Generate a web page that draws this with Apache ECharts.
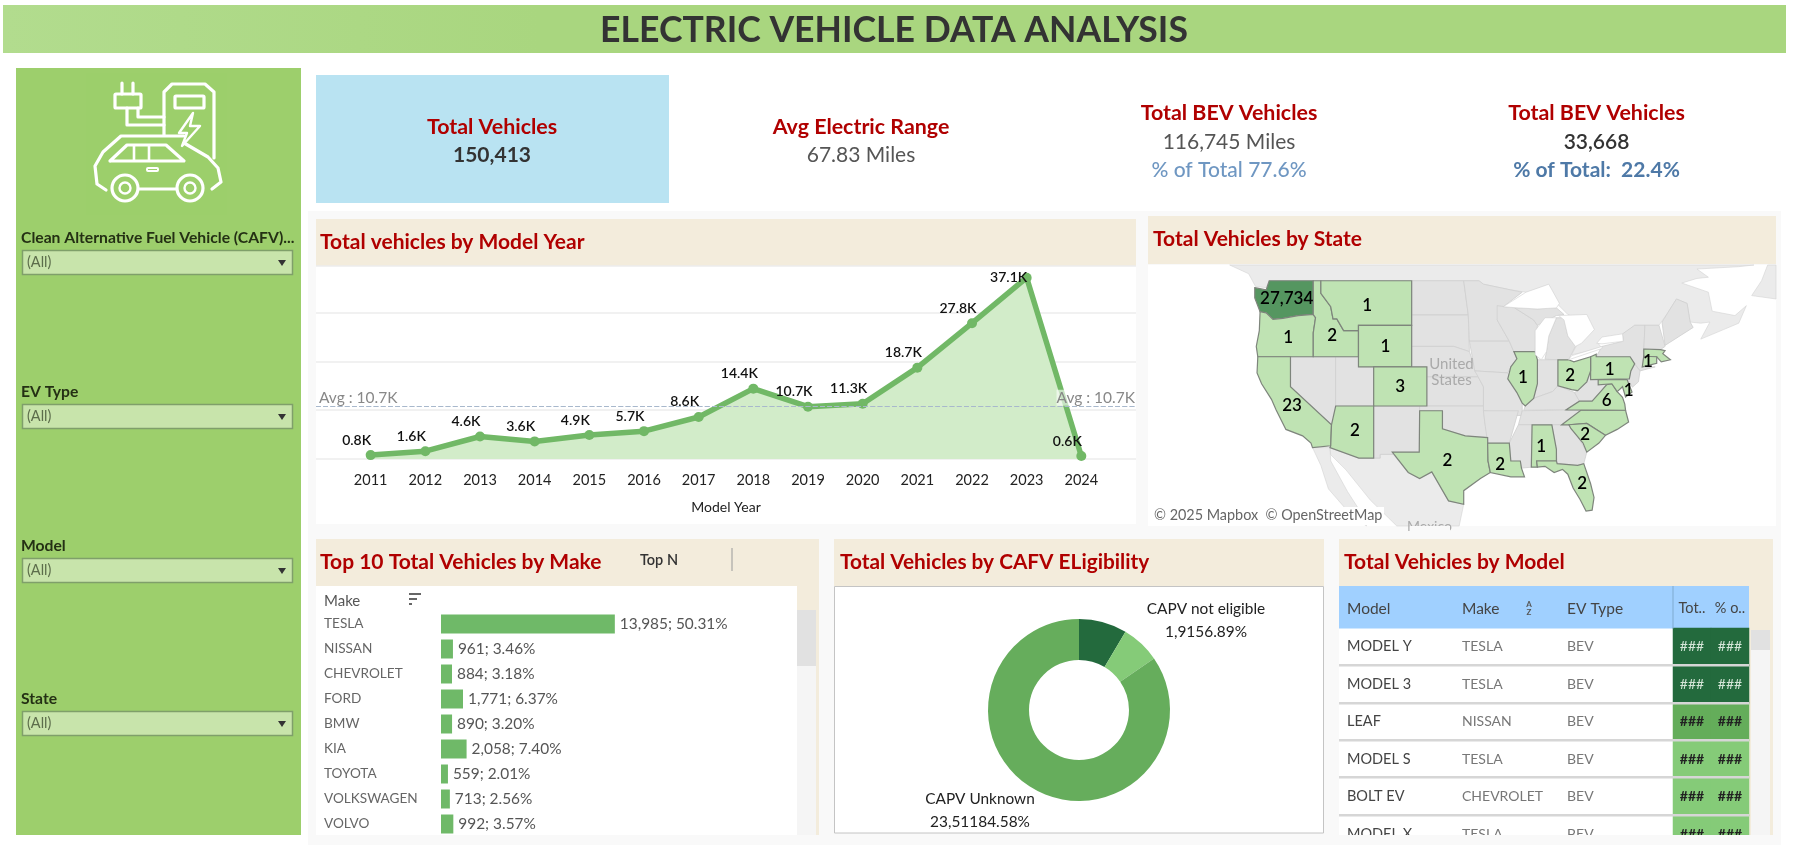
<!DOCTYPE html>
<html><head><meta charset="utf-8">
<style>html,body{margin:0;padding:0;background:#fff;overflow:hidden}#c{width:1793px;height:845px}</style>
<script src="https://cdn.jsdelivr.net/npm/echarts@6/dist/echarts.min.js"></script>
</head><body><div id="c"></div>
<script>
const years=[2011,2012,2013,2014,2015,2016,2017,2018,2019,2020,2021,2022,2023,2024];
const yearTotals=[0.8,1.6,4.6,3.6,4.9,5.7,8.6,14.4,10.7,11.3,18.7,27.8,37.1,0.6];
const avgTotal=10.7;
const makes=['TESLA','NISSAN','CHEVROLET','FORD','BMW','KIA','TOYOTA','VOLKSWAGEN','VOLVO'];
const makeTotals=[13985,961,884,1771,890,2058,559,713,992];
const makePercents=['50.31%','3.46%','3.18%','6.37%','3.20%','7.40%','2.01%','2.56%','3.57%'];
const cafvNames=['CAPV eligible','CAPV not eligible','CAPV Unknown'];
const cafvShares=[8.53,6.89,84.58];
const cafvLabels=['','1,9156.89%','23,51184.58%'];
const tableModels=['MODEL Y','MODEL 3','LEAF','MODEL S','BOLT EV','MODEL X'];
const tableMakes=['TESLA','TESLA','NISSAN','TESLA','CHEVROLET','TESLA'];
const tableTypes=['BEV','BEV','BEV','BEV','BEV','BEV'];
const tableColumns=['Tot..','% o..'];
const tableShades=[2,2,1,0,0,0];
const stateNames=['WA','OR','ID','MT','WY','CO','CA','AZ','TX','LA','AL','FL','SC','VA','MD','PA','OH','IL','MA'];
const stateCounts=[27734,1,2,1,1,3,23,2,2,2,1,2,2,6,1,1,2,1,1];
const kpis=[
 {cx:492,title:[127,'Total Vehicles'],lines:[[155,'150,413','#333',700]]},
 {cx:861,title:[127,'Avg Electric Range'],lines:[[155,'67.83 Miles','#555',400]]},
 {cx:1229,title:[113,'Total BEV Vehicles'],lines:[[142,'116,745 Miles','#555',400],[170,'% of Total 77.6%','#6f97c2',500]]},
 {cx:1596.5,title:[113,'Total BEV Vehicles'],lines:[[142,'33,668','#333',600],[170,'% of Total:  22.4%','#4e79a7',700]]}
];
const filters=[['Clean Alternative Fuel Vehicle (CAFV)...',238,250],['EV Type',392,404],['Model',546,558],['State',699,711]];

// simplified geographic outlines (lon, lat)
const shapes={
 frame:[[[-138.75,50.34],[-56.1,50.34],[-56.1,23.4],[-138.75,23.4]]],
 Canada:[[[-128,50.34],[-125.5,49.6],[-124.6,48.5],[-123.2,48.4],[-122.8,49],[-95.2,49],[-94.6,48.7],[-91,48.2],[-89,48],[-84.8,46.9],[-83.5,46],[-81.7,45.5],[-82.4,43],[-83,42.2],[-79,42.8],[-79.5,43.3],[-76.5,44],[-74.7,45],[-71.5,45],[-70.3,46.2],[-69.2,47.4],[-67.8,47],[-67.4,45.3],[-66,45.2],[-64.8,45.3],[-66,43.7],[-63,44.6],[-61,45.2],[-60,46.8],[-61.5,45.9],[-64.5,46.3],[-65,48],[-68.5,48.8],[-66.5,49.2],[-65,49.3],[-66.5,50],[-61,50.2],[-59,50.34]],[[-59.3,47.7],[-56.1,47.4],[-56.1,50.34],[-57.2,50.34],[-58,49]]],
 Mexico:[[[-114.8,32.5],[-111,31.33],[-108.2,31.33],[-108.2,31.75],[-106.5,31.75],[-104.5,29.7],[-103,29],[-101.4,29.77],[-99.2,26.4],[-97.2,26],[-97.8,23.4],[-106,23.4],[-109.5,26.5],[-112.7,30],[-114.7,31.7]],[[-117.1,32.5],[-114.8,32.5],[-114.7,31],[-112.5,27.5],[-110,24],[-110,23.4],[-112,24.7],[-115,27.8],[-116,30.5]]],
 NV:[[[-120,42],[-114.05,42],[-114.05,36.2],[-114.6,35],[-120,39]]],
 UT:[[[-114.05,42],[-111.05,42],[-111.05,41],[-109.05,41],[-109.05,37],[-114.05,37]]],
 NM:[[[-109.05,37],[-103,37],[-103.05,32],[-106.6,32],[-106.5,31.75],[-108.2,31.75],[-108.2,31.33],[-109.05,31.33]]],
 ND:[[[-104.05,49],[-97.2,49],[-96.6,45.95],[-104.05,45.95]]],
 SD:[[[-104.05,45.95],[-96.6,45.95],[-96.45,42.5],[-98.5,43],[-104.05,43]]],
 NE:[[[-104.05,43],[-98.5,43],[-96.45,42.5],[-95.3,40],[-102.05,40],[-102.05,41],[-104.05,41]]],
 KS:[[[-102.05,40],[-95.3,40],[-94.6,39],[-94.6,37],[-102.05,37]]],
 OK:[[[-103,37],[-94.6,37],[-94.45,35.4],[-94.05,33.6],[-97,33.8],[-100,34.56],[-100,36.5],[-103,36.5]]],
 MN:[[[-97.2,49],[-95.2,49],[-94.6,48.7],[-91,48.2],[-89.5,48],[-92,46.7],[-92.8,45.5],[-91.2,43.5],[-96.45,43.5],[-96.6,45.95]]],
 IA:[[[-96.45,43.5],[-91.2,43.5],[-90.2,41.8],[-91,41],[-91.4,40.4],[-95.75,40.6]]],
 MO:[[[-95.75,40.6],[-91.4,40.4],[-90.2,38.4],[-89.5,37.3],[-89.5,36],[-90.4,36],[-94.6,36.5],[-94.6,39],[-95.3,40]]],
 AR:[[[-94.6,36.5],[-90,36.5],[-91.2,33],[-94.05,33],[-94.45,35.4]]],
 WI:[[[-92.8,46.8],[-90.5,46.6],[-88,45.5],[-87.5,45],[-87.8,42.5],[-90.6,42.5],[-91.2,43.5],[-92.8,45.5]]],
 MI:[[[-86.5,41.76],[-84.8,41.7],[-83.4,41.7],[-82.5,43],[-83.5,44],[-84,45.7],[-85,45.7],[-86,44],[-86.3,42.5]],[[-90.5,46.6],[-87.5,46.5],[-85,46.6],[-84,46],[-85,45.9],[-87.5,45],[-88,45.5]]],
 IN:[[[-87.5,41.7],[-84.8,41.7],[-84.8,39.1],[-85.5,38.5],[-88,37.8],[-87.5,39.3]]],
 KY:[[[-89.3,36.55],[-83.7,36.6],[-81.97,37.5],[-82.6,38.4],[-84.8,39.1],[-85.5,38.5],[-88,37.8],[-89.1,37]]],
 TN:[[[-90,35],[-84.3,35],[-81.7,36.59],[-89.5,36.5]]],
 MS:[[[-91.2,33],[-90,35],[-88.2,35],[-88.3,30.3],[-89.6,30.2],[-89.75,31],[-91,31]]],
 GA:[[[-85.6,35],[-83.1,35],[-81,32],[-81.4,30.7],[-82.2,30.5],[-84.9,30.7],[-85,32.3]]],
 WV:[[[-82.6,38.4],[-81.97,37.5],[-80.3,37.5],[-79.3,38.4],[-78.4,39.2],[-77.7,39.3],[-79.5,39.2],[-79.5,39.72],[-80.5,39.72],[-80.5,40.6],[-81,39.5],[-82.2,38.6]]],
 NY:[[[-79.76,42],[-79,43],[-76.2,43.5],[-76.3,44.2],[-74.7,45],[-73.35,45],[-73.5,42.05],[-73.7,41],[-72,41],[-74,40.6],[-74.7,41.3],[-75.3,42]]],
 VTNH:[[[-73.35,45],[-71.5,45],[-70.7,43],[-71.3,42.7],[-73.5,42.75]]],
 ME:[[[-71.1,45.3],[-70.3,46.2],[-69.2,47.4],[-67.8,47],[-67.4,45.3],[-67,44.8],[-70.7,43.1]]],
 NJ:[[[-74.7,41.3],[-74,40.6],[-74.2,39.5],[-75,38.95],[-75.5,39.6],[-75.2,40.6]]],
 WA:[[[-124.7,48.4],[-123.2,48.2],[-122.8,49],[-117,49],[-117,46],[-119,45.9],[-121,45.65],[-122.3,45.55],[-123.2,46.15],[-124,46.25],[-124.7,47.5]]],
 OR:[[[-124,46.25],[-123.2,46.15],[-122.3,45.55],[-121,45.65],[-119,45.9],[-117,46],[-116.7,45.7],[-117,44.3],[-117,42],[-124.3,42],[-124.5,43],[-124.1,44.5]]],
 ID:[[[-117,49],[-116,49],[-116,47.9],[-114.7,46.7],[-114.4,45.6],[-113.9,45.6],[-113,44.5],[-111.05,44.5],[-111.05,42],[-117,42],[-117,44.3],[-116.7,45.7],[-117,46]]],
 MT:[[[-116,49],[-104.05,49],[-104.05,45],[-111.05,45],[-111.05,44.5],[-113,44.5],[-113.9,45.6],[-114.4,45.6],[-114.7,46.7],[-116,47.9]]],
 WY:[[[-111.05,45],[-104.05,45],[-104.05,41],[-111.05,41]]],
 CO:[[[-109.05,41],[-102.05,41],[-102.05,37],[-109.05,37]]],
 CA:[[[-124.3,42],[-120,42],[-120,39],[-114.6,35],[-114.7,32.7],[-117.1,32.5],[-117.3,33],[-118.4,33.8],[-120.6,34.5],[-121.9,36.6],[-122.5,37.7],[-123.8,39.3],[-124.4,40.4]]],
 AZ:[[[-114.05,37],[-109.05,37],[-109.05,31.33],[-111,31.33],[-114.8,32.5],[-114.7,32.7],[-114.6,35]]],
 TX:[[[-106.6,32],[-103.05,32],[-103,36.5],[-100,36.5],[-100,34.56],[-97,33.8],[-94.05,33.6],[-94,31],[-93.7,29.7],[-95,29],[-97.2,27.6],[-97.2,26],[-99.2,26.4],[-101.4,29.77],[-103,29],[-104.5,29.7]]],
 LA:[[[-94.05,33],[-91.2,33],[-91,31],[-89.75,31],[-89.6,30.2],[-89.2,29.2],[-91,29.2],[-93.7,29.7],[-94,31]]],
 AL:[[[-88.2,35],[-85.6,35],[-85,32.3],[-85,31],[-87.6,31],[-87.5,30.3],[-88.3,30.3]]],
 FL:[[[-87.6,31],[-85,31],[-84.9,30.7],[-82.2,30.5],[-81.4,30.7],[-80.5,28.4],[-80.05,26.8],[-80.3,25.3],[-81.1,25.2],[-81.9,26.6],[-82.8,27.9],[-83.5,29.5],[-84.2,30.05],[-85.3,29.7],[-86.5,30.4],[-87.5,30.3]]],
 NC:[[[-84.3,35],[-81.7,36.59],[-75.9,36.55],[-75.5,35.3],[-77,34.5],[-78.55,33.85],[-81,35.15],[-83.35,35]]],
 SC:[[[-83.35,35],[-81,35.15],[-78.55,33.85],[-79.4,33],[-81,32],[-81.5,33],[-83.1,34.6]]],
 VA:[[[-83.7,36.6],[-75.9,36.55],[-76,37.2],[-76.3,37.9],[-77,38.5],[-77.7,39.3],[-78.4,39.2],[-79.3,38.4],[-80.3,37.5],[-81.97,37.5]]],
 MD:[[[-79.5,39.72],[-75.7,39.72],[-75.05,38.45],[-75.9,37.95],[-76.3,39],[-77,38.5],[-77.7,39.3],[-79.5,39.2]]],
 PA:[[[-80.5,42],[-79.76,42.25],[-79.76,42],[-75.3,42],[-74.7,41.3],[-75.2,40.6],[-75.4,39.8],[-80.5,39.72]]],
 OH:[[[-84.8,41.7],[-83.4,41.7],[-82.7,41.5],[-80.5,42],[-80.5,40.6],[-81,39.5],[-82.2,38.6],[-83,38.7],[-84.8,39.1]]],
 IL:[[[-90.6,42.5],[-87.8,42.5],[-87.5,41.7],[-87.5,39.3],[-88,37.8],[-89.1,37],[-89.5,37.3],[-90.2,38.4],[-91.4,39.8],[-91,41],[-90.2,41.8]]],
 MA:[[[-73.5,42.75],[-71.3,42.7],[-70.7,42.6],[-71,42.3],[-70,41.7],[-71.2,41.5],[-71.8,42],[-73.5,42.05]]],
 CT:[[[-73.5,42.05],[-71.8,42],[-71.8,41.35],[-73.7,41]]],
 Superior:[[[-92,46.7],[-89,48],[-86,48.7],[-84.6,47],[-85,46.6],[-87.5,46.5],[-90,46.6]]],
 Michigan:[[[-87.8,42.2],[-87,41.7],[-86.3,42.5],[-86,44],[-85,45.7],[-86.5,45.7],[-87.8,44.5]]],
 Huron:[[[-84.7,45.9],[-81,46],[-80,44.6],[-81.7,43.3],[-82.5,43],[-83.5,44],[-84,45.5]]],
 Erie:[[[-83.4,41.7],[-79,42.8],[-79,43],[-83,42.1]]],
 Ontario:[[[-79.7,43.3],[-79,43.25],[-76.2,43.5],[-76.3,44.2],[-79,43.9]]]
};
const labelPoints={WA:[-120.5,47.4],OR:[-120.3,43.9],ID:[-114.5,44],MT:[-109.9,46.8],WY:[-107.5,43],CO:[-105.55,39],CA:[-119.8,37],AZ:[-111.5,34.4],TX:[-99.35,31.07],LA:[-92.4,30.6],AL:[-87,32.66],FL:[-81.6,28.4],SC:[-81.2,33.9],VA:[-78.4,37.6],MD:[-75.5,38.6],PA:[-78,40.7],OH:[-83.2,40.1],IL:[-89.4,39.9],MA:[-72.95,41.5]};
const features=Object.keys(shapes).map(n=>({type:'Feature',properties:{name:n,cp:labelPoints[n]},geometry:{type:'MultiPolygon',coordinates:shapes[n].map(p=>[p])}}));
echarts.registerMap('usa',{type:'FeatureCollection',features});

const F='Lato, "Open Sans", sans-serif';
const RED='#b00000', BEIGE='#f3ecdc', PANEL='#f9f9f9', GREEN='#6fb968';
const g=[];
function rect(x,y,w,h,fill,z,extra){g.push(Object.assign({type:'rect',shape:{x,y,width:w,height:h},style:{fill},z:z==null?-1:z,silent:true},extra||{}));}
function text(s,x,y,size,fill,weight,align,z,extra){g.push({type:'text',x,y,z:z==null?60:z,silent:true,style:Object.assign({text:s,font:(weight||400)+' '+size+'px '+F,fill,align:align||'left',verticalAlign:'middle'},extra||{})});}
function stroke(type,shape,w,z){g.push({type,shape,z:z==null?30:z,silent:true,style:{stroke:'#fff',fill:'none',lineWidth:w||3.2,lineCap:'round',lineJoin:'round'}});}

// page structure
rect(3,5,1783,48,new echarts.graphic.LinearGradient(0,0,1,0,[{offset:0,color:'#b2dc8e'},{offset:.3,color:'#a9d67f'},{offset:1,color:'#a9d67f'}]));
text('ELECTRIC VEHICLE DATA ANALYSIS',894,31,35.6,'#333',700,'center');
rect(16,68,285,767,'#9dcf6c');
rect(86,73,141,142,'#9ccf6b');
rect(308,211,1473,634,PANEL);
rect(316,75,353,128,'#b9e3f2');
kpis.forEach(k=>{text(k.title[1],k.cx,k.title[0],21.4,RED,700,'center');k.lines.forEach(l=>text(l[1],k.cx,l[0],21,l[2],l[3],'center'));});
filters.forEach(f=>{text(f[0],21,f[1],15.7,'#243014',700);
 g.push({type:'rect',z:1,silent:true,shape:{x:22.5,y:f[2]+.5,width:270,height:24},style:{fill:'#c8e4ab',stroke:'#7f9f6a',lineWidth:1.5}});
 text('(All)',27,f[2]+12.5,14.5,'#5c6d4b',400);
 g.push({type:'polygon',z:2,silent:true,shape:{points:[[278,f[2]+10],[286,f[2]+10],[282,f[2]+16]]},style:{fill:'#333'}});
});
// icon
stroke('rect',{x:115,y:94,width:26,height:14,r:1});
stroke('line',{x1:122,y1:83,x2:122,y2:94});stroke('line',{x1:133,y1:83,x2:133,y2:94});
stroke('polyline',{points:[[127,108],[127,125],[164,125]]});stroke('polyline',{points:[[138,108],[138,117],[164,117]]});
stroke('polyline',{points:[[164,135],[164,92],[172,84],[205,84],[214,92],[214,158]]});
stroke('rect',{x:175,y:96,width:29,height:12,r:1});
stroke('polygon',{points:[[193,113],[179,133],[187,133],[182,146],[200,126],[190,126]]},2.4);
stroke('polyline',{points:[[184,136],[121,136],[103,152],[95,166],[97,184],[106,190]]});
stroke('polyline',{points:[[110,161],[127,145],[166,145],[184,161],[110,161]]});
stroke('line',{x1:134,y1:146,x2:134,y2:160},2.6);stroke('line',{x1:149,y1:146,x2:149,y2:160},2.6);
stroke('polyline',{points:[[184,143],[208,157],[218,168],[221,182],[212,189]]});
stroke('line',{x1:139,y1:189,x2:176,y2:189});
stroke('circle',{cx:125,cy:188,r:13});stroke('circle',{cx:125,cy:188,r:5.5},2.4);
stroke('circle',{cx:190,cy:188,r:13});stroke('circle',{cx:190,cy:188,r:5.5},2.4);
stroke('rect',{x:147,y:168,width:11,height:3,r:1},2);

// line panel
rect(316,219,820,47,BEIGE);rect(316,266,820,258,'#fff');
text('Total vehicles by Model Year',320,242,21,RED,700);
// map panel
rect(1148,216,628,48,BEIGE);
text('Total Vehicles by State',1153,239,21,RED,700);
rect(1150,507,234,18,'#fff',55);
text('© 2025 Mapbox  © OpenStreetMap',1154,515.5,14.4,'#666',400,'left',60);
text('United',1451.5,364,15,'#aaa',400,'center',60);text('States',1451.5,380,15,'#aaa',400,'center',60);
text('Mexico',1429.5,526,14,'#aaa',400,'center',60);
rect(1410,526,40,7,PANEL,61);
// make panel
rect(316,539,503,296,BEIGE);rect(316,586,481,249,'#fff');
rect(797,610,19,225,'#f5f5f5');rect(797,610,19,56,'#e1e1e1');
text('Top 10 Total Vehicles by Make',320,562,21,RED,700);
text('Top N',659,560,14.5,'#333',600,'center');
rect(731.5,548,1,23,'#999',5);
text('Make',324,601,15,'#555',400);
rect(409,593,12,2,'#666',5);rect(409,598,8,2,'#666',5);rect(409,603,3,2,'#666',5);
// donut panel
rect(834,539,490,47,BEIGE);
g.push({type:'rect',z:-1,silent:true,shape:{x:834.5,y:586.5,width:489,height:246.5},style:{fill:'#fff',stroke:'#c4c4c4',lineWidth:1}});
text('Total Vehicles by CAFV ELigibility',840,562,20.8,RED,700);
// table panel
rect(1339,539,434,296,BEIGE);rect(1339,586,410,249,'#fff');rect(1339,586,410,42.5,'#a0d0ff');
rect(1751,630,19,205,'#f5f5f5');rect(1751,630,19,20,'#e1e1e1');
text('Total Vehicles by Model',1344,562,21,RED,700);
text('Model',1347,609,15.5,'#444');text('Make',1462,609,15.5,'#444');text('EV Type',1567,609,15.5,'#444');
text('A',1529,604,8,'#555',700,'center');text('Z',1529,612,8,'#555',700,'center');
rect(1672.5,586,1,42.5,'#7fa9cf',5);
[664,702,739,776,814].forEach(y=>rect(1339,y,410,2.5,'#d6d6d6',40));
rect(1339,835,434,10,PANEL,100);

const shadeColors=['#85cb78','#64ad5a','#236a3d'];
const mapData=[];
Object.keys(shapes).forEach(n=>{
 if(n==='frame')mapData.push({name:n,itemStyle:{areaColor:'#fff',borderWidth:0},label:{show:false}});
 else if(n==='Canada'||n==='Mexico')mapData.push({name:n,itemStyle:{areaColor:'#ebebeb',borderColor:'#d4d4d4',borderWidth:.6},label:{show:false}});
 else if(['Superior','Michigan','Huron','Erie','Ontario'].includes(n))mapData.push({name:n,itemStyle:{areaColor:'#fff',borderColor:'#d0d0d0',borderWidth:.6},label:{show:false}});
 else if(n==='NC'||n==='CT')mapData.push({name:n,itemStyle:{areaColor:'#bfe3b3',borderColor:'#7e857c',borderWidth:1.2},label:{show:false}});
 else{const i=stateNames.indexOf(n);
  if(i<0)mapData.push({name:n,itemStyle:{areaColor:'#e2e2e2',borderColor:'#cfcfcf',borderWidth:.8},label:{show:false}});
  else mapData.push({name:n,value:stateCounts[i],itemStyle:{areaColor:n==='WA'?'#559660':'#bfe3b3',borderColor:'#7e857c',borderWidth:1.2}});}
});
const labelAxis=(gridIndex,data,color,fontSize)=>({gridIndex,type:'category',inverse:true,data,axisLine:{show:false},axisTick:{show:false},
   axisLabel:{align:'left',margin:0,color,fontSize,fontFamily:F}});
const blankX=gridIndex=>({gridIndex,type:'value',show:false});

const option={
 animation:false,backgroundColor:'#fff',textStyle:{fontFamily:F},
 graphic:{elements:g},
 grid:[
  {left:316,top:266,width:820,height:193,outerBoundsMode:'none'},
  {left:441,top:611.5,width:356,height:225,outerBoundsMode:'none'},
  {left:1673,top:628,width:76,height:225,outerBoundsMode:'none'},
  {left:1347,top:628,width:100,height:225,outerBoundsMode:'none'},
  {left:1462,top:628,width:100,height:225,outerBoundsMode:'none'},
  {left:1567,top:628,width:100,height:225,outerBoundsMode:'none'}
 ],
 xAxis:[
  {gridIndex:0,type:'value',min:2010,max:2025,interval:1,name:'Model Year',nameLocation:'middle',nameGap:41,
   nameTextStyle:{color:'#222',fontSize:14,fontFamily:F},
   axisLine:{show:false},axisTick:{show:false},splitLine:{show:false},
   axisLabel:{color:'#222',fontSize:14.5,margin:14,fontFamily:F,formatter:v=>years.includes(v)?String(v):''}},
  {gridIndex:1,type:'value',min:0,max:28640,show:false},
  {gridIndex:2,type:'category',position:'top',data:tableColumns,axisLine:{show:false},axisTick:{show:false},
   axisLabel:{color:'#444',fontSize:14.5,margin:12,fontFamily:F,interval:0}},
  blankX(3),blankX(4),blankX(5)
 ],
 yAxis:[
  {gridIndex:0,type:'value',min:0,max:39.5,interval:10,axisLine:{show:false},axisTick:{show:false},axisLabel:{show:false},splitLine:{lineStyle:{color:'#ececec',width:1.5}}},
  {gridIndex:1,type:'category',inverse:true,data:makes,axisLine:{show:false},axisTick:{show:false},
   axisLabel:{align:'left',margin:117,color:'#666',fontSize:13.6,fontFamily:F,padding:[2,0,0,0]}},
  {gridIndex:2,type:'category',inverse:true,data:tableModels,axisLine:{show:false},axisTick:{show:false},axisLabel:{show:false}},
  labelAxis(3,tableModels,'#444',14.5),
  labelAxis(4,tableMakes,'#777',14),
  labelAxis(5,tableTypes,'#777',14)
 ],
 series:[
  {type:'line',xAxisIndex:0,yAxisIndex:0,silent:true,data:years.map((y,i)=>({value:[y,yearTotals[i]],label:yearTotals[i]===Math.max(...yearTotals)?{offset:[-18,17]}:undefined})),
   lineStyle:{color:'#71b866',width:5.5},itemStyle:{color:'#71b866'},symbol:'circle',symbolSize:10,showAllSymbol:true,
   areaStyle:{color:'#d2ecc9',opacity:1},clip:false,
   label:{show:true,position:'top',offset:[-14,2],color:'#111',fontSize:14,fontWeight:600,fontFamily:F,formatter:p=>p.value[1].toFixed(1)+'K'},
   markLine:{silent:true,symbol:'none',lineStyle:{color:'#a8b8cc',type:'dashed',width:1.2},
    data:[{yAxis:avgTotal,label:{position:'insideStartTop',distance:1,formatter:'Avg : '+avgTotal+'K',color:'#888',fontSize:15.5,fontFamily:F,padding:[0,0,0,2]}},
          {yAxis:avgTotal,label:{position:'insideEndTop',distance:1,formatter:'Avg : '+avgTotal+'K',color:'#888',fontSize:15.5,fontFamily:F,backgroundColor:'rgba(255,255,255,.6)'}}]}},
  {type:'bar',xAxisIndex:1,yAxisIndex:1,silent:true,data:makeTotals,barWidth:19,itemStyle:{color:GREEN},
   label:{show:true,position:'right',distance:5,color:'#555',fontSize:15.4,fontFamily:F,formatter:p=>makeTotals[p.dataIndex].toLocaleString('en-US')+'; '+makePercents[p.dataIndex]}},
  {type:'pie',silent:true,center:[1079,710],radius:[50,91],startAngle:90,
   data:cafvNames.map((n,i)=>({name:n,value:cafvShares[i],itemStyle:{color:['#236a3d','#85cb78','#66ad5c'][i]},label:{show:i>0},labelLine:{show:false}})),
   label:{position:'outside',color:'#222',fontSize:15.4,lineHeight:23,fontFamily:F,align:'center',formatter:p=>p.name+'\n'+cafvLabels[p.dataIndex]},
   labelLayout:p=>p.dataIndex===1?{x:1206,y:621,align:'center',verticalAlign:'middle'}:{x:980,y:811,align:'center',verticalAlign:'middle'}},
  {type:'heatmap',xAxisIndex:2,yAxisIndex:2,silent:true,
   data:tableShades.flatMap((s,r)=>tableColumns.map((c,x)=>({value:[x,r,s],itemStyle:{color:shadeColors[s]},label:s===2?{color:'#d5e6d8',fontWeight:400}:undefined}))),
   label:{show:true,formatter:'###',fontSize:14,fontFamily:F,fontWeight:700,color:'#222'},
   emphasis:{disabled:true}},
  {type:'map',map:'usa',silent:true,left:1148,top:265,width:628,height:261,roam:false,
   projection:{project:c=>[c[0]*7.6,-Math.log(Math.tan(Math.PI/4+c[1]*Math.PI/360))*434],
               unproject:p=>[p[0]/7.6,(2*Math.atan(Math.exp(-p[1]/434))-Math.PI/2)*180/Math.PI]},
   itemStyle:{areaColor:'#e2e2e2',borderColor:'#cfcfcf',borderWidth:.8},
   label:{show:true,color:'#000',fontSize:17,fontFamily:F,fontWeight:600,formatter:p=>Number(p.value).toLocaleString('en-US')},
   emphasis:{disabled:true},select:{disabled:true},showLegendSymbol:false,data:mapData}
 ]
};
echarts.init(document.getElementById('c'),null,{renderer:'canvas'}).setOption(option);
</script></body></html>
